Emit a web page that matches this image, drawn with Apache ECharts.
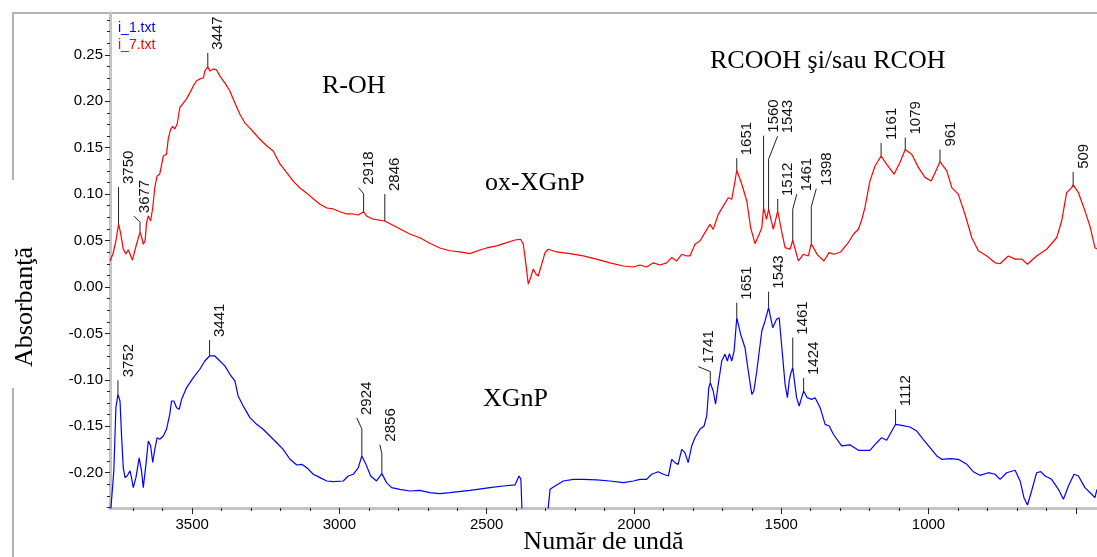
<!DOCTYPE html>
<html>
<head>
<meta charset="utf-8">
<script src="https://cdn.jsdelivr.net/npm/echarts@6/dist/echarts.min.js"></script>
<style>
html,body{margin:0;padding:0;background:#fff}
#chart{width:1097px;height:557px}
</style>
</head>
<body>
<div id="chart"></div>
<script>
// IR spectra: wavenumber (cm-1) vs absorbance
const oxXGnP = [ // i_7.txt
[3779,0.028],[3769,0.0355],[3759,0.0495],[3750,0.0678],[3743,0.058],[3734,0.041],[3725,0.0355],[3717,0.040],[3711,0.0355],[3703,0.029],[3697,0.031],[3689,0.046],[3677,0.059],[3671,0.053],[3666,0.046],[3660,0.0495],[3655,0.069],[3649,0.0765],[3641,0.071],[3634,0.085],[3627,0.1066],[3619,0.1195],[3610,0.1217],[3604,0.1228],[3598,0.141],[3587,0.143],[3581,0.160],[3573,0.170],[3566,0.173],[3559,0.170],[3551,0.1755],[3542,0.193],[3530,0.198],[3519,0.2025],[3508,0.209],[3496,0.2165],[3485,0.222],[3474,0.224],[3462,0.225],[3457,0.2326],[3447,0.237],[3440,0.2326],[3428,0.2348],[3417,0.2337],[3406,0.227],[3389,0.2197],[3372,0.211],[3355,0.198],[3338,0.186],[3321,0.1766],[3304,0.171],[3287,0.165],[3270,0.159],[3247,0.152],[3225,0.1465],[3202,0.1325],[3179,0.123],[3157,0.114],[3134,0.1066],[3111,0.101],[3089,0.095],[3066,0.089],[3043,0.085],[3021,0.084],[2998,0.081],[2976,0.0786],[2953,0.0786],[2936,0.0775],[2918,0.081],[2908,0.0765],[2885,0.073],[2846,0.071],[2828,0.068],[2794,0.0625],[2761,0.057],[2727,0.053],[2693,0.047],[2659,0.042],[2625,0.039],[2591,0.0377],[2557,0.0359],[2523,0.0398],[2500,0.042],[2466,0.0442],[2432,0.0477],[2404,0.0506],[2385,0.0514],[2376,0.0463],[2367,0.0248],[2359,0.0032],[2351,0.010],[2342,0.0194],[2333,0.014],[2325,0.0118],[2313,0.0248],[2302,0.037],[2291,0.0406],[2262,0.0377],[2217,0.0359],[2172,0.0334],[2127,0.030],[2082,0.026],[2036,0.0226],[2002,0.0215],[1980,0.0237],[1957,0.0215],[1934,0.026],[1912,0.0237],[1889,0.026],[1872,0.0316],[1855,0.028],[1838,0.0352],[1821,0.0334],[1810,0.0334],[1793,0.046],[1776,0.0495],[1759,0.0585],[1742,0.0675],[1731,0.062],[1714,0.078],[1697,0.087],[1680,0.096],[1668,0.0944],[1657,0.114],[1651,0.1257],[1634,0.1106],[1617,0.0926],[1604,0.0639],[1589,0.0466],[1575,0.0568],[1566,0.0639],[1560,0.0854],[1550,0.0729],[1543,0.0837],[1527,0.0621],[1512,0.0818],[1499,0.0603],[1487,0.0423],[1470,0.0406],[1461,0.0503],[1442,0.028],[1425,0.0352],[1408,0.0334],[1398,0.0466],[1377,0.0345],[1355,0.028],[1338,0.037],[1321,0.0352],[1298,0.0377],[1273,0.0474],[1255,0.0568],[1238,0.0621],[1226,0.0732],[1216,0.0854],[1199,0.114],[1182,0.130],[1161,0.141],[1142,0.132],[1117,0.1214],[1097,0.134],[1079,0.148],[1057,0.143],[1034,0.1285],[1012,0.118],[991,0.114],[972,0.127],[961,0.135],[938,0.125],[921,0.107],[899,0.100],[876,0.078],[853,0.053],[831,0.039],[802,0.0334],[774,0.026],[757,0.025],[729,0.0334],[706,0.030],[683,0.030],[664,0.0244],[633,0.0334],[599,0.0406],[565,0.053],[548,0.071],[531,0.1015],[514,0.107],[509,0.110],[491,0.1015],[469,0.082],[452,0.0657],[435,0.0423],[428,0.041]
];

const XGnP = [ // i_1.txt
[3779,-0.25],[3774,-0.2305],[3766,-0.198],[3759,-0.130],[3752,-0.1156],[3745,-0.1228],[3740,-0.1586],[3734,-0.1946],[3728,-0.2053],[3721,-0.2035],[3711,-0.198],[3706,-0.2053],[3700,-0.216],[3691,-0.2053],[3680,-0.184],[3672,-0.198],[3666,-0.216],[3657,-0.191],[3649,-0.166],[3641,-0.171],[3634,-0.189],[3627,-0.1748],[3619,-0.1623],[3610,-0.164],[3598,-0.1605],[3587,-0.1532],[3576,-0.137],[3570,-0.1228],[3562,-0.1228],[3553,-0.130],[3544,-0.1317],[3536,-0.121],[3519,-0.1084],[3496,-0.0977],[3474,-0.0886],[3457,-0.0797],[3441,-0.0743],[3423,-0.0743],[3406,-0.0797],[3389,-0.085],[3372,-0.094],[3355,-0.1012],[3344,-0.1174],[3327,-0.128],[3304,-0.1407],[3281,-0.1479],[3259,-0.1532],[3236,-0.1605],[3213,-0.1677],[3191,-0.1748],[3168,-0.1855],[3145,-0.1917],[3128,-0.191],[3111,-0.1946],[3089,-0.2017],[3066,-0.2053],[3043,-0.2089],[3021,-0.2097],[2987,-0.2089],[2970,-0.2035],[2953,-0.2017],[2936,-0.1946],[2924,-0.182],[2910,-0.191],[2894,-0.2035],[2874,-0.2089],[2856,-0.201],[2840,-0.2107],[2823,-0.216],[2795,-0.2179],[2761,-0.2197],[2727,-0.219],[2693,-0.2215],[2659,-0.2226],[2625,-0.2215],[2557,-0.219],[2489,-0.2161],[2444,-0.2143],[2404,-0.2132],[2398,-0.2089],[2390,-0.2035],[2384,-0.207],[2378,-0.26],[2340,-0.30],[2298,-0.26],[2285,-0.2179],[2268,-0.2143],[2240,-0.2089],[2206,-0.2071],[2172,-0.2071],[2127,-0.2078],[2082,-0.2089],[2036,-0.2107],[2002,-0.2089],[1980,-0.2071],[1957,-0.2071],[1940,-0.2017],[1918,-0.1989],[1900,-0.2017],[1883,-0.2035],[1872,-0.1856],[1861,-0.1892],[1850,-0.191],[1838,-0.1748],[1827,-0.1784],[1816,-0.1892],[1804,-0.1712],[1793,-0.1623],[1776,-0.1532],[1762,-0.1497],[1753,-0.1389],[1746,-0.1084],[1741,-0.103],[1731,-0.112],[1723,-0.1263],[1714,-0.1048],[1702,-0.0797],[1691,-0.0725],[1683,-0.0797],[1676,-0.0718],[1668,-0.0797],[1660,-0.0689],[1651,-0.0331],[1638,-0.0509],[1623,-0.0654],[1612,-0.0905],[1600,-0.1156],[1593,-0.112],[1583,-0.0905],[1566,-0.0474],[1555,-0.0366],[1543,-0.0223],[1529,-0.0438],[1516,-0.0348],[1507,-0.0331],[1499,-0.0617],[1487,-0.1048],[1479,-0.1192],[1473,-0.1012],[1467,-0.0923],[1461,-0.0869],[1448,-0.1192],[1439,-0.1282],[1431,-0.1192],[1424,-0.112],[1412,-0.1192],[1397,-0.121],[1385,-0.1192],[1368,-0.13],[1351,-0.1479],[1337,-0.1497],[1323,-0.1586],[1295,-0.1712],[1267,-0.170],[1238,-0.1759],[1199,-0.1759],[1176,-0.1677],[1159,-0.1623],[1142,-0.1651],[1128,-0.1569],[1112,-0.1479],[1091,-0.149],[1063,-0.1508],[1040,-0.1551],[1018,-0.164],[995,-0.173],[972,-0.182],[955,-0.1856],[927,-0.1849],[899,-0.1856],[870,-0.191],[848,-0.1989],[825,-0.2028],[797,-0.2],[774,-0.2017],[757,-0.2071],[735,-0.2],[706,-0.1974],[689,-0.2089],[676,-0.2269],[664,-0.2348],[650,-0.2197],[633,-0.2],[619,-0.1989],[604,-0.2035],[582,-0.2071],[559,-0.2179],[542,-0.2286],[525,-0.2143],[506,-0.2017],[491,-0.2035],[469,-0.2161],[446,-0.2232],[435,-0.2269],[428,-0.2179]
];

// labelled band positions (cm-1)
const oxPeaks = [3750, 3677, 3447, 2918, 2846, 1651, 1560, 1543, 1512, 1461, 1398, 1161, 1079, 961, 509];
const xgPeaks = [3752, 3441, 2924, 2856, 1741, 1651, 1543, 1461, 1424, 1112];

// axis ticks
const xTickLabels = [3500, 3000, 2500, 2000, 1500, 1000];
const xMajorTicks = [3500, 3000, 2500, 2000, 1500, 1000, 500];
const yTickLabels = [-0.20, -0.15, -0.10, -0.05, 0.00, 0.05, 0.10, 0.15, 0.20, 0.25];

const xMinorTicks = [];
for (let v = 3700; v >= 500; v -= 100) if (v % 500) xMinorTicks.push(v);
const yMinorTicks = [];
for (let k = -19; k <= 23; k++) if (k % 4) yMinorTicks.push(k * 0.0125);

// leader geometry per label: [vertical rise px, bend dx px, bend rise px]
const oxLeaders = [[37,0,0],[10,-6,6],[14,0,0],[18,-5,6],[27,0,0],[12,0,0],[72,0,0],[50,9,23],[12,0,0],[31,4,15],[37,5,18],[13,0,0],[12,0,0],[12,0,0],[13,0,0]];
const xgLeaders = [[14,0,0],[16,0,0],[27,-5,11],[20,-2,9],[11,-12,5],[15,0,0],[16,0,0],[30,0,0],[13,0,0],[15,0,0]];

function valueAt(pts, w) {
  for (let i = 0; i < pts.length - 1; i++) {
    const [w0, a0] = pts[i], [w1, a1] = pts[i + 1];
    if ((w0 - w) * (w1 - w) <= 0) {
      if (w0 === w1) return a0;
      return a0 + (a1 - a0) * (w - w0) / (w1 - w0);
    }
  }
  return null;
}

function peakSeries(curve, peaks, leaders) {
  return {
    type: 'custom',
    coordinateSystem: 'cartesian2d',
    xAxisIndex: 0, yAxisIndex: 0,
    silent: true, clip: false, z: 5,
    data: peaks.map(w => [w, valueAt(curve, w)]),
    renderItem(params, api) {
      const p = api.coord([api.value(0), api.value(1)]);
      const L = leaders[params.dataIndex];
      const x0 = p[0], y0 = p[1];
      const y1 = y0 - L[0];
      const x2 = x0 + L[1], y2 = y1 - L[2];
      const pts = [[x0, y0], [x0, y1]];
      if (L[1] || L[2]) pts.push([x2, y2]);
      return {
        type: 'group',
        children: [
          { type: 'polyline', shape: { points: pts }, style: { stroke: '#222', lineWidth: 1, fill: null } },
          { type: 'text', x: x2 + 3, y: y2 - 3, rotation: Math.PI / 2,
            style: { text: String(api.value(0)), font: '15px "Liberation Sans"', fill: '#111',
                     align: 'left', verticalAlign: 'top', textAlign: 'left', textVerticalAlign: 'top' } }
        ]
      };
    }
  };
}

const sans = 'Liberation Sans';
const serif = 'Liberation Serif';

function serifText(txt, x, y) {
  return { type: 'text', x: x, y: y, z: 10,
    style: { text: txt, font: '26px "Liberation Serif"', fill: '#000',
             align: 'left', verticalAlign: 'middle', textAlign: 'left', textVerticalAlign: 'middle' } };
}

const chart = echarts.init(document.getElementById('chart'), null, { renderer: 'canvas' });
chart.setOption({
  animation: false,
  backgroundColor: '#fff',
  grid: { left: 110, right: 0, top: 13, bottom: 49, containLabel: false, outerBoundsMode: 'none' },
  legend: {
    data: [
      { name: 'i_1.txt', textStyle: { color: '#0000ff' } },
      { name: 'i_7.txt', textStyle: { color: '#ff0000' } }
    ],
    orient: 'vertical', left: 108, top: 16,
    icon: 'rect', itemWidth: 0, itemHeight: 0, itemGap: 3,
    selectedMode: false,
    textStyle: { fontFamily: sans, fontSize: 14, padding: 0 }
  },
  xAxis: [
    { type: 'value', inverse: true, min: 428, max: 3779, position: 'bottom',
      axisLine: { show: true, onZero: false, lineStyle: { color: '#c4c4c4', width: 3 } },
      axisTick: { show: true, customValues: xMajorTicks, length: 6, lineStyle: { color: '#222', width: 1 } },
      axisLabel: { show: true, customValues: xTickLabels, margin: 9, color: '#000', fontSize: 15, fontFamily: sans,
                   formatter: v => String(Math.round(v)) },
      splitLine: { show: false },
      name: 'Număr de undă', nameLocation: 'middle', nameGap: 21, nameMoveOverlap: false,
      nameTextStyle: { fontFamily: serif, fontSize: 26, color: '#000' } },
    { type: 'value', inverse: true, min: 428, max: 3779, position: 'bottom',
      axisLine: { show: false, onZero: false },
      axisTick: { show: true, customValues: xMinorTicks, length: 3, lineStyle: { color: '#222', width: 1 } },
      axisLabel: { show: false }, splitLine: { show: false } }
  ],
  yAxis: [
    { type: 'value', min: -0.238, max: 0.295, position: 'left',
      axisLine: { show: true, onZero: false, lineStyle: { color: '#c4c4c4', width: 3 } },
      axisTick: { show: true, customValues: yTickLabels, length: 5, lineStyle: { color: '#222', width: 1 } },
      axisLabel: { show: true, customValues: yTickLabels, margin: 7, color: '#000', fontSize: 15, fontFamily: sans,
                   formatter: v => (Math.abs(v) < 1e-9 ? 0 : v).toFixed(2) },
      splitLine: { show: false } },
    { type: 'value', min: -0.238, max: 0.295, position: 'left',
      axisLine: { show: false, onZero: false },
      axisTick: { show: true, customValues: yMinorTicks, length: 3, lineStyle: { color: '#222', width: 1 } },
      axisLabel: { show: false }, splitLine: { show: false } }
  ],
  series: [
    { name: 'i_7.txt', type: 'line', data: oxXGnP, color: '#ff0000', symbol: 'none', showSymbol: false,
      lineStyle: { width: 1.2, color: '#ff0000' }, clip: true, silent: true, z: 3 },
    { name: 'i_1.txt', type: 'line', data: XGnP, color: '#0000ff', symbol: 'none', showSymbol: false,
      lineStyle: { width: 1.2, color: '#0000ff' }, clip: true, silent: true, z: 3 },
    peakSeries(oxXGnP, oxPeaks, oxLeaders),
    peakSeries(XGnP, xgPeaks, xgLeaders)
  ],
  graphic: [
    { type: 'line', shape: { x1: 12, y1: 13, x2: 1097, y2: 13 }, style: { stroke: '#b4b4b4', lineWidth: 2 } },
    { type: 'line', shape: { x1: 13, y1: 13, x2: 13, y2: 180 }, style: { stroke: '#b4b4b4', lineWidth: 2 } },
    { type: 'line', shape: { x1: 13, y1: 388, x2: 13, y2: 557 }, style: { stroke: '#b4b4b4', lineWidth: 2 } },
    serifText('R-OH', 322, 86),
    serifText('RCOOH şi/sau RCOH', 710, 61),
    serifText('ox-XGnP', 485, 183),
    serifText('XGnP', 483, 399),
    { type: 'text', x: 25, y: 307, rotation: Math.PI / 2, z: 10,
      style: { text: 'Absorbanţă', font: '26px "Liberation Serif"', fill: '#000',
               align: 'center', verticalAlign: 'middle', textAlign: 'center', textVerticalAlign: 'middle' } }
  ]
});
</script>
</body>
</html>
